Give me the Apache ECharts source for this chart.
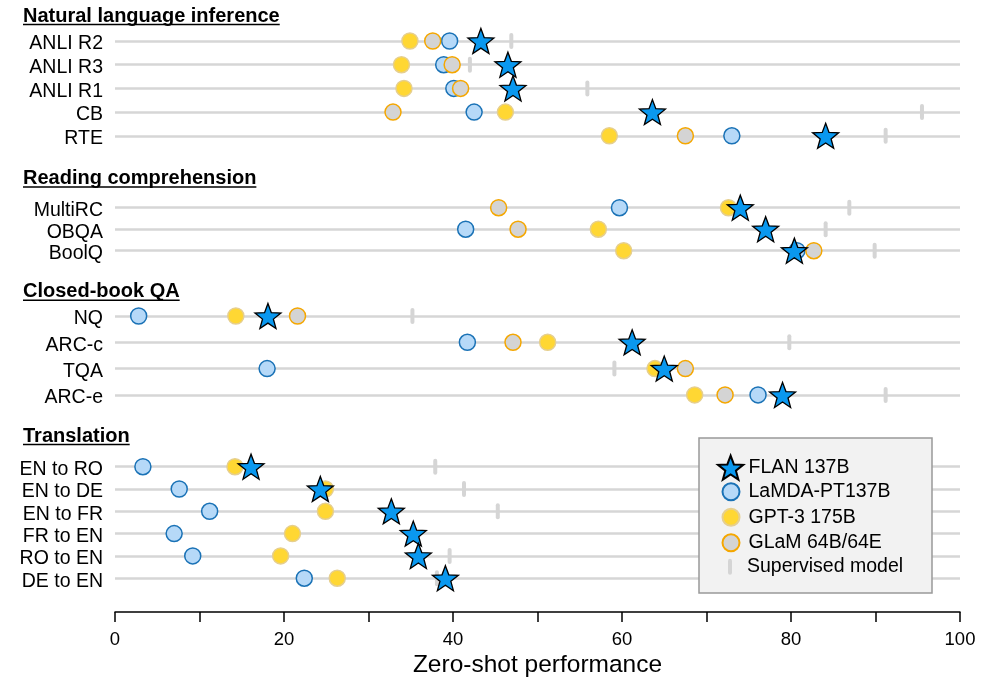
<!DOCTYPE html>
<html>
<head>
<meta charset="utf-8">
<script src="https://cdn.jsdelivr.net/npm/echarts@6/dist/echarts.min.js"></script>
<style>
html, body { margin: 0; padding: 0; background: #fff; }
#chart { width: 1004px; height: 683px; }
</style>
</head>
<body>
<div id="chart"></div>
<script>
// task groups, top to bottom
var groupNames = ['Natural language inference', 'Reading comprehension', 'Closed-book QA', 'Translation'];
var nliTasks = ['ANLI R2', 'ANLI R3', 'ANLI R1', 'CB', 'RTE'];
var rcTasks = ['MultiRC', 'OBQA', 'BoolQ'];
var qaTasks = ['NQ', 'ARC-c', 'TQA', 'ARC-e'];
var trTasks = ['EN to RO', 'EN to DE', 'EN to FR', 'FR to EN', 'RO to EN', 'DE to EN'];

// zero-shot scores, same order as the tasks above (null = no result)
var flan       = [43.3, 46.5, 47.1, 63.6, 84.1,  74.0, 77.0, 80.4,  18.1, 61.2, 65.0, 79.0,  16.1, 24.3, 32.7, 35.3, 35.9, 39.1];
var lamda      = [39.6, 38.9, 40.1, 42.5, 73.0,  59.7, 41.5, 80.7,   2.8, 41.7, 18.0, 76.1,   3.3,  7.6, 11.2,  7.0,  9.2, 22.4];
var gpt3       = [34.9, 33.9, 34.2, 46.2, 58.5,  72.6, 57.2, 60.2,  14.3, 51.2, 63.9, 68.6,  14.2, 24.9, 24.9, 21.0, 19.6, 26.3];
var glam       = [37.6, 39.9, 40.9, 32.9, 67.5,  45.4, 47.7, 82.7,  21.6, 47.1, 67.5, 72.2,  null, null, null, null, null, null];
var supervised = [46.9, 42.0, 55.9, 95.5, 91.2,  86.9, 84.1, 89.9,  35.2, 79.8, 59.1, 91.2,  37.9, 41.3, 45.3, 35.2, 39.6, 38.1];

var xMin = 0, xMax = 100, xStep = 10, xLabelStep = 20;

// layout (pixels)
var groupTasks = [nliTasks, rcTasks, qaTasks, trTasks];
var groupTop = [41, 207.7, 316, 466.7];
var groupStep = [23.7, 21.5, 26.3, 22.3];
var headerY = [16, 178.3, 291.6, 436];
var axisY = 612;
var FONT = '"Liberation Sans", Arial, Helvetica, sans-serif';

var starPath = 'path://M50 0L62.34 33.01L97.55 34.55L69.97 56.49L79.39 90.45L50 71L20.61 90.45L30.03 56.49L2.45 34.55L37.66 33.01Z';
var pillPath = 'path://M2 0A2 2 0 0 1 4 2L4 14A2 2 0 0 1 0 14L0 2A2 2 0 0 1 2 0Z';

// drawing order: first is at the bottom
var models = [
    { name: 'Supervised model', values: supervised, symbol: pillPath, size: [4, 16],
      style: { color: '#d5d5d5' } },
    { name: 'GPT-3 175B', values: gpt3, symbol: 'circle', size: 16,
      style: { color: '#ffd733', borderColor: '#e6cf8e', borderWidth: 1.5 } },
    { name: 'LaMDA-PT137B', values: lamda, symbol: 'circle', size: 16,
      style: { color: '#b6d9f8', borderColor: '#1a72b6', borderWidth: 1.5 } },
    { name: 'GLaM 64B/64E', values: glam, symbol: 'circle', size: 16,
      style: { color: '#d4d4d4', borderColor: '#f5a700', borderWidth: 1.5 } },
    { name: 'FLAN 137B', values: flan, symbol: starPath, size: [26, 25],
      style: { color: '#0a98ef', borderColor: '#000', borderWidth: 1.3 } }
];

var chart = echarts.init(document.getElementById('chart'));

var grids = [], xAxes = [], yAxes = [], series = [];
var offset = 0;
groupTasks.forEach(function (tasks, g) {
    var last = g === groupTasks.length - 1;
    grids.push({
        left: 115, right: 44,
        top: groupTop[g],
        height: (tasks.length - 1) * groupStep[g]
    });
    var gridBottom = groupTop[g] + (tasks.length - 1) * groupStep[g];
    xAxes.push({
        type: 'value', gridIndex: g, min: xMin, max: xMax, interval: xStep,
        show: last,
        offset: last ? axisY - gridBottom : 0,
        splitLine: { show: false },
        axisLine: { show: true, lineStyle: { color: '#000', width: 1.5 } },
        axisTick: { show: true, length: 10, lineStyle: { color: '#000', width: 1.5 } },
        axisLabel: {
            color: '#000', fontSize: 18.5, fontFamily: FONT, margin: 18,
            formatter: function (v) { return v % xLabelStep === 0 ? String(v) : ''; }
        },
        name: last ? 'Zero-shot performance' : '',
        nameLocation: 'middle', nameGap: 41,
        nameTextStyle: { color: '#000', fontSize: 24.5, fontFamily: FONT }
    });
    yAxes.push({
        type: 'category', gridIndex: g, data: tasks, inverse: true, boundaryGap: false,
        axisLine: { show: false }, axisTick: { show: false },
        axisLabel: {
            interval: 0, margin: 12,
            formatter: function (v) { return '{t|' + v + '}'; },
            rich: { t: { color: '#000', fontSize: 19.5, fontFamily: FONT, padding: [6, 0, 0, 0] } }
        },
        splitLine: { show: true, interval: 0, lineStyle: { color: '#d6d6d6', width: 2.5 } }
    });
    models.forEach(function (m) {
        var pts = [];
        tasks.forEach(function (t, i) {
            var v = m.values[offset + i];
            if (v != null) pts.push([v, t]);
        });
        series.push({
            type: 'scatter', name: m.name, xAxisIndex: g, yAxisIndex: g,
            data: pts, symbol: m.symbol, symbolSize: m.size, clip: false,
            itemStyle: Object.assign({ opacity: 1 }, m.style),
            emphasis: { disabled: true }, silent: true
        });
    });
    offset += tasks.length;
});

// section headers with underlines
var measure = document.createElement('canvas').getContext('2d');
var headerFont = 'bold 20px ' + FONT;
measure.font = headerFont;
var graphics = [];
groupNames.forEach(function (name, g) {
    var w = measure.measureText(name).width;
    graphics.push({
        type: 'text', x: 23, y: headerY[g],
        style: { text: name, font: headerFont, fill: '#000', align: 'left', verticalAlign: 'middle' }
    });
    graphics.push({
        type: 'line', shape: { x1: 23, y1: headerY[g] + 8.6, x2: 23 + w, y2: headerY[g] + 8.6 },
        style: { stroke: '#000', lineWidth: 1.5 }
    });
});
// legend box
graphics.push({
    type: 'rect', z: 10,
    shape: { x: 699, y: 438, width: 233, height: 155 },
    style: { fill: '#f2f2f2', stroke: '#999', lineWidth: 1.5 }
});

var legendText = { color: '#000', fontSize: 19.5, fontFamily: FONT, lineHeight: 20 };
var option = {
    animation: false,
    grid: grids,
    xAxis: xAxes,
    yAxis: yAxes,
    graphic: graphics,
    legend: [
        { data: ['FLAN 137B'], orient: 'vertical', left: 717, top: 454.7, padding: 0, z: 11,
          itemWidth: 26, itemHeight: 24, textStyle: legendText, selectedMode: false },
        { data: ['LaMDA-PT137B', 'GPT-3 175B', 'GLaM 64B/64E'], orient: 'vertical', left: 721.5, top: 481.7,
          padding: 0, z: 11, itemWidth: 17, itemHeight: 17, itemGap: 5.5, selectedMode: false,
          textStyle: Object.assign({ padding: [0, 0, 0, 4] }, legendText) },
        { data: ['Supervised model'], orient: 'vertical', left: 728, top: 556.7, padding: 0, z: 11,
          itemWidth: 4, itemHeight: 16, selectedMode: false,
          textStyle: Object.assign({ padding: [0, 0, 0, 10] }, legendText) }
    ],
    series: series
};
chart.setOption(option);
</script>
</body>
</html>
